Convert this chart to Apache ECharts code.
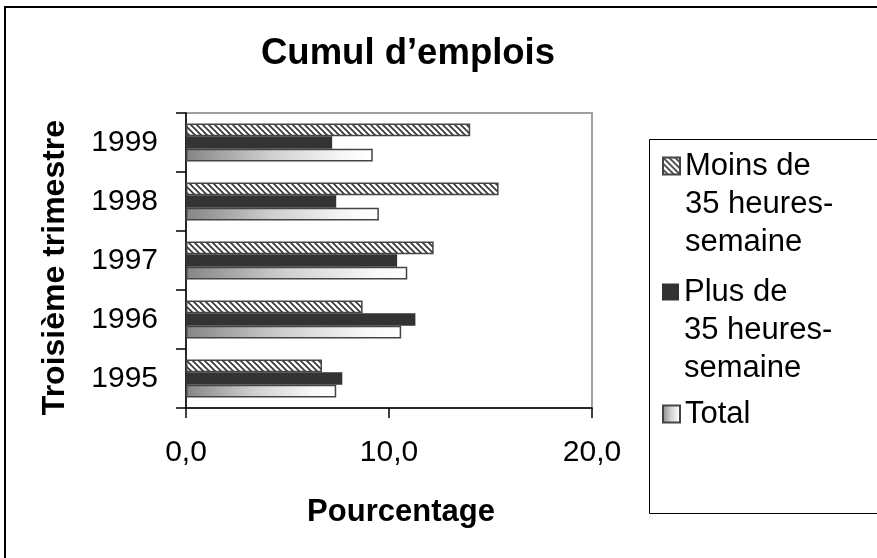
<!DOCTYPE html>
<html>
<head>
<meta charset="utf-8">
<script src="https://cdn.jsdelivr.net/npm/echarts@6/dist/echarts.min.js"></script>
<style>
html,body{margin:0;padding:0;background:#fff;}
#chart{width:877px;height:558px;}
</style>
</head>
<body>
<div id="chart"></div>
<script>
// ---- data ----
var categories = ['1995', '1996', '1997', '1998', '1999'];
var seriesNames = ['Moins de 35 heures-semaine', 'Plus de 35 heures-semaine', 'Total'];
var legendLabels = ['Moins de\n35 heures-\nsemaine', 'Plus de\n35 heures-\nsemaine', 'Total'];
var moinsValues = [6.7, 8.7, 12.2, 15.4, 14.0];
var plusValues = [7.7, 11.3, 10.4, 7.4, 7.2];
var totalValues = [7.4, 10.6, 10.9, 9.5, 9.2];
var xTicks = [0, 10, 20];
var titleText = 'Cumul d\u2019emplois';
var xAxisTitle = 'Pourcentage';
var yAxisTitle = 'Troisi\u00e8me trimestre';

// ---- styles ----
function hatch() {
  var c = document.createElement('canvas');
  c.width = 6; c.height = 6;
  var g = c.getContext('2d');
  g.fillStyle = '#ffffff';
  g.fillRect(0, 0, 6, 6);
  g.strokeStyle = '#333333';
  g.lineWidth = 1.6;
  for (var k = -6; k <= 6; k += 6) {
    g.beginPath();
    g.moveTo(k - 1, -1);
    g.lineTo(k + 7, 7);
    g.stroke();
  }
  return c;
}
var hatchFill = { image: hatch(), repeat: 'repeat' };
var gradFill = new echarts.graphic.LinearGradient(0, 0, 1, 0, [
  { offset: 0, color: '#858585' },
  { offset: 0.45, color: '#cfcfcf' },
  { offset: 0.85, color: '#f8f8f8' },
  { offset: 1, color: '#ffffff' }
]);

var FONT = 'Liberation Sans, Arial, sans-serif';
var chart = echarts.init(document.getElementById('chart'), null, { renderer: 'canvas' });

var nameToLabel = {};
seriesNames.forEach(function (n, i) { nameToLabel[n] = legendLabels[i]; });

function mkLegend(name, top, multi) {
  return {
    data: [name],
    left: 662,
    top: top,
    orient: 'vertical',
    padding: 0,
    itemWidth: 17,
    itemHeight: 17,
    icon: 'rect',
    selectedMode: false,
    formatter: function (n) { return multi ? '\n\n' + nameToLabel[n] : nameToLabel[n]; },
    textStyle: {
      fontFamily: FONT,
      fontSize: 31,
      color: '#000',
      lineHeight: 38
    }
  };
}

var option = {
  animation: false,
  backgroundColor: '#ffffff',
  title: {
    text: titleText,
    left: 261,
    top: 35,
    padding: 0,
    textStyle: { fontFamily: FONT, fontSize: 36.5, fontWeight: 'bold', color: '#000' }
  },
  legend: [
    mkLegend(seriesNames[0], 71, true),
    mkLegend(seriesNames[1], 197, true),
    mkLegend(seriesNames[2], 395, false)
  ],
  graphic: [
    { type: 'rect', shape: { x: 5, y: 7, width: 900, height: 600 }, style: { fill: 'none', stroke: '#000', lineWidth: 2 }, silent: true, z: -1 },
    { type: 'rect', shape: { x: 649.5, y: 139.5, width: 300, height: 374 }, style: { fill: 'none', stroke: '#000', lineWidth: 1 }, silent: true, z: -1 }
  ],
  grid: {
    left: 186, top: 113, right: 285, bottom: 150,
    show: true, borderColor: '#a0a0a0', borderWidth: 2, backgroundColor: '#ffffff'
  },
  xAxis: {
    type: 'value',
    min: xTicks[0], max: xTicks[xTicks.length - 1], interval: 10,
    axisLine: { show: true, lineStyle: { color: '#000', width: 1.5 } },
    axisTick: { show: true, length: 10, lineStyle: { color: '#000', width: 1.5 } },
    splitLine: { show: false },
    axisLabel: {
      margin: 30, fontFamily: FONT, fontSize: 30, color: '#000',
      formatter: function (v) { return v.toFixed(1).replace('.', ','); }
    },
    name: xAxisTitle, nameLocation: 'middle', nameGap: 89,
    nameTextStyle: { fontFamily: FONT, fontSize: 31, fontWeight: 'bold', color: '#000', padding: [0, 0, 0, 24] }
  },
  yAxis: {
    type: 'category',
    data: categories,
    axisLine: { show: true, lineStyle: { color: '#000', width: 1.5 } },
    axisTick: { show: true, length: 10, alignWithLabel: false, lineStyle: { color: '#000', width: 1.5 } },
    axisLabel: { margin: 28, fontFamily: FONT, fontSize: 30, color: '#000' },
    name: yAxisTitle, nameLocation: 'middle', nameGap: 115, nameRotate: 90,
    nameTextStyle: { fontFamily: FONT, fontSize: 32, fontWeight: 'bold', color: '#000', padding: [0, 14, 0, 0] }
  },
  series: [
    {
      name: seriesNames[0], type: 'bar', data: moinsValues, barWidth: 12.7, barGap: '0%',
      itemStyle: { color: hatchFill, borderColor: '#444', borderWidth: 1.5 }
    },
    {
      name: seriesNames[1], type: 'bar', data: plusValues, barWidth: 12.7, barGap: '0%',
      itemStyle: { color: '#333333', borderColor: '#333333', borderWidth: 0 }
    },
    {
      name: seriesNames[2], type: 'bar', data: totalValues, barWidth: 12.7, barGap: '0%',
      itemStyle: { color: gradFill, borderColor: '#444', borderWidth: 1.5 }
    }
  ]
};
chart.setOption(option);
</script>
</body>
</html>
